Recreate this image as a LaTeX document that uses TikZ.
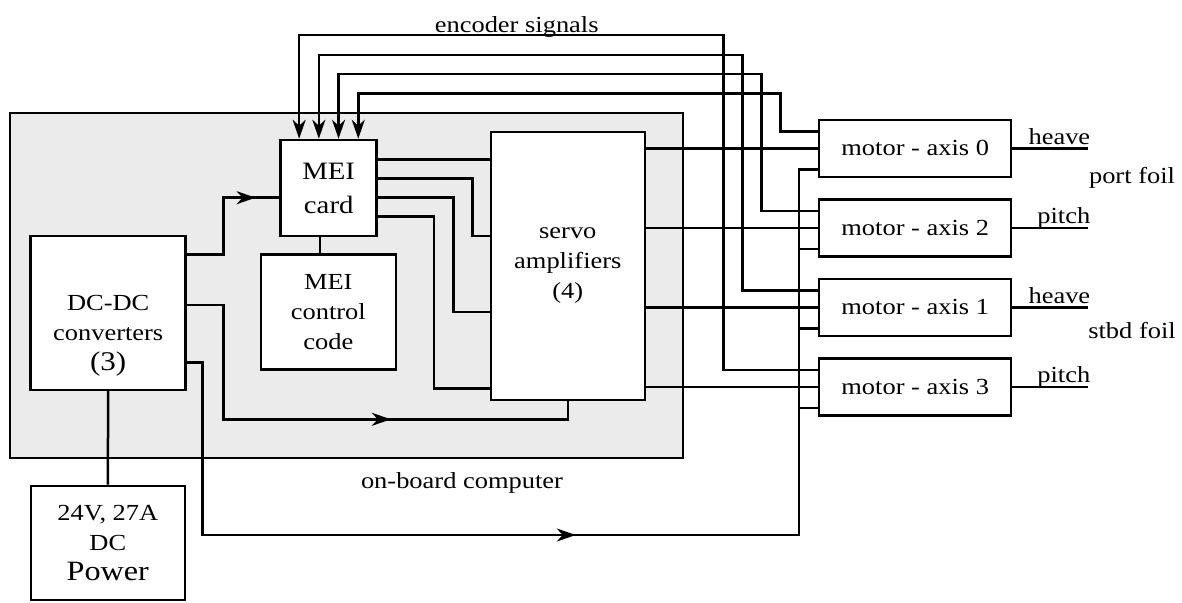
\documentclass[tikz,border=0pt]{standalone}
\usepackage{fontspec}
\setmainfont{Liberation Serif}[FakeStretch=1.15]
\usetikzlibrary{arrows.meta, positioning, calc, decorations.markings}

\begin{document}
\begin{tikzpicture}[
  x=1pt, y=-1pt, line width=2.5pt,
  every node/.style={font=\fontsize{23}{30}\selectfont},
  box/.style={draw, fill=white, align=center, inner sep=0pt},
  motor/.style={box, minimum width=192pt, minimum height=57pt},
  arrow/.style={-{Stealth[length=19pt, width=13pt, inset=6pt]}},
  midarrow/.style={decoration={markings, mark=at position #1 with {\arrow{Stealth[length=19pt, width=13pt, inset=6pt]}}}, postaction={decorate}}
]
\useasboundingbox (0,0) rectangle (1182,602);

% on-board computer
\node[draw, fill=black!8, minimum width=673pt, minimum height=345pt, inner sep=0pt] (obc) at (346.7,285.4) {};
\node (obclabel) at (462,483) {on-board computer};

\node[box, minimum width=96pt, minimum height=96pt, font=\fontsize{25}{34}\selectfont] (mei) at (328.7,188) {MEI\\card};
\node[box, minimum width=135pt, minimum height=115pt] (code) at (328.3,311.8) {MEI\\control\\code};
\node[box, minimum width=154pt, minimum height=268pt] (servo) at (567.8,266) {servo\\amplifiers\\(4)};
\node[box, minimum width=155pt, minimum height=154pt,
  label={[name=dctext, align=center, yshift=-23pt]center:DC-DC\\converters\\{\fontsize{27}{32}\selectfont(3)}}] (dcdc) at (108.2,312.8) {};
\node[box, minimum width=154pt, minimum height=114pt] (power) at (107.8,542.8) {24V, 27A\\DC\\{\fontsize{28}{35}\selectfont Power}};

% motors
\node[motor] (m0) at (915.2,148.3) {motor - axis 0};
\node[motor, below=20pt of m0] (m2) {motor - axis 2};
\node[motor, below=20pt of m2] (m1) {motor - axis 1};
\node[motor, below=20pt of m1] (m3) {motor - axis 3};

\node[anchor=base] (enc) at (516.7,32.3) {encoder signals};
\node (port) at (1132,178) {port foil};
\node (stbd) at (1132,331) {stbd foil};

% motor pins
\foreach \m in {m0,m2,m1,m3} {
  \coordinate (\m-enc) at ([yshift=16.6pt]\m.west);
  \coordinate (\m-pwr) at ([yshift=-21pt]\m.west);
}
\coordinate (pbus) at (799,535);

% encoder signals
\foreach \m/\f/\xx/\yy in {m3/0.2/723.3/35, m1/0.4/742.3/55, m2/0.6/761.7/74, m0/0.8/780.7/93.3}
  \draw[arrow] (\m-enc) -| (\xx,\yy) -| ($(mei.north west)!\f!(mei.north east)$);

% card to servo
\foreach \k/\dy in {1/28.7, 2/9.5, 3/-9.5, 4/-28.7}
  \coordinate (mo\k) at ([yshift=\dy pt]mei.east);
\draw (mo1) -- (mo1 -| servo.west);
\foreach \k/\xx/\yy in {2/472.7/236, 3/453.3/312, 4/434/388.7}
  \draw (mo\k) -| (\xx,\yy) -- (\xx,\yy -| servo.west);
\draw ([xshift=-8.7pt]mei.south) -- ([xshift=-8.7pt]mei.south |- code.north);

% servo to motors
\foreach \m in {m0,m2,m1,m3}
  \draw (servo.east |- \m.west) -- (\m.west);

% foil outputs
\foreach \m/\t in {m0/heave, m2/pitch, m1/heave, m3/pitch}
  \draw (\m.east) -- ++(76,0) node[anchor=base east, inner sep=0pt, xshift=3pt, yshift=4pt] (\m-out) {\t};

% power
\draw[midarrow=0.84] ([yshift=58.5pt]dcdc.east) -| (223.3,197.7) -- ([yshift=-9.7pt]mei.west);
\draw[midarrow=0.62] ([yshift=7.8pt]dcdc.east) -| (223.3,419.3) -| (servo.south);
\draw[midarrow=0.48] ([yshift=-49.9pt]dcdc.east) -| (202.7,535) -- (pbus) |- (m0-pwr);
\foreach \m in {m2,m1,m3}
  \draw (\m-pwr) -- (\m-pwr -| pbus);
\draw (dcdc.south) -- (power.north);
\end{tikzpicture}
\end{document}
